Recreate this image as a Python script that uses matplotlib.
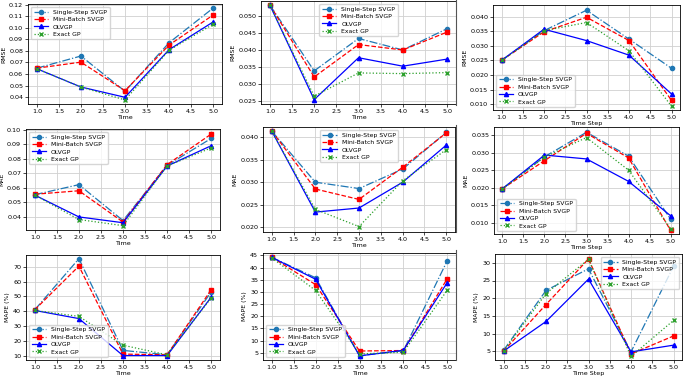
import matplotlib
matplotlib.use("Agg")
import matplotlib.pyplot as plt
from matplotlib.lines import Line2D

x = [1.0, 2.0, 3.0, 4.0, 5.0]
series_names = ["Single-Step SVGP", "Mini-Batch SVGP", "OLVGP", "Exact GP"]

# RMSE
rmse_a_ss = [0.065, 0.0755, 0.045, 0.087, 0.117]
rmse_a_mb = [0.065, 0.0702, 0.0455, 0.085, 0.111]
rmse_a_ol = [0.0645, 0.0487, 0.0398, 0.081, 0.105]
rmse_a_ex = [0.0645, 0.0487, 0.0375, 0.0805, 0.103]

rmse_b_ss = [0.0533, 0.0338, 0.0434, 0.0400, 0.0463]
rmse_b_mb = [0.0533, 0.0320, 0.0416, 0.0400, 0.0453]
rmse_b_ol = [0.0533, 0.0253, 0.0377, 0.0352, 0.0373]
rmse_b_ex = [0.0533, 0.0263, 0.0332, 0.0330, 0.0333]

rmse_c_ss = [0.0250, 0.0352, 0.0422, 0.0323, 0.0223]
rmse_c_mb = [0.0250, 0.0348, 0.0398, 0.0318, 0.0113]
rmse_c_ol = [0.0250, 0.0357, 0.0318, 0.0268, 0.0135]
rmse_c_ex = [0.0250, 0.0352, 0.0380, 0.0283, 0.0093]

# MAE
mae_a_ss = [0.0553, 0.0622, 0.0375, 0.0755, 0.094]
mae_a_mb = [0.0556, 0.0580, 0.0365, 0.0760, 0.097]
mae_a_ol = [0.0550, 0.0400, 0.0360, 0.0750, 0.089]
mae_a_ex = [0.0550, 0.0382, 0.0340, 0.0750, 0.0875]

mae_b_ss = [0.0413, 0.0300, 0.0286, 0.0329, 0.0410]
mae_b_mb = [0.0413, 0.0285, 0.0262, 0.0333, 0.0409]
mae_b_ol = [0.0413, 0.0234, 0.0243, 0.0300, 0.0382]
mae_b_ex = [0.0413, 0.0240, 0.0202, 0.0303, 0.0372]

mae_c_ss = [0.0197, 0.0288, 0.0358, 0.0290, 0.0110]
mae_c_mb = [0.0197, 0.0277, 0.0355, 0.0285, 0.0078]
mae_c_ol = [0.0197, 0.0293, 0.0282, 0.0218, 0.0120]
mae_c_ex = [0.0197, 0.0287, 0.0343, 0.0250, 0.0083]

# MAPE
mape_a_ss = [41, 75.5, 13.5, 10.5, 53]
mape_a_mb = [41, 70.5, 11, 10.5, 54.5]
mape_a_ol = [40.5, 35, 10, 10, 49.5]
mape_a_ex = [40.5, 36.5, 17, 10.5, 49]

mape_b_ss = [44.2, 35.8, 3.8, 5.8, 42.8]
mape_b_mb = [44.2, 33.0, 5.7, 5.9, 35.4]
mape_b_ol = [44.2, 35.2, 3.7, 6.0, 33.8]
mape_b_ex = [44.0, 30.6, 4.5, 5.2, 30.7]

mape_c_ss = [5.2, 22.2, 28.3, 4.8, 29.0]
mape_c_mb = [5.0, 18.2, 31.1, 4.2, 9.3]
mape_c_ol = [5.0, 13.4, 25.4, 4.8, 6.7]
mape_c_ex = [5.0, 21.3, 31.0, 3.5, 13.7]

W, H = 685, 376
fig = plt.figure(figsize=(W / 100, H / 100), dpi=100)

def box(l, t, r, b):
    return [l / W, 1 - b / H, (r - l) / W, (b - t) / H]

styles = [
    dict(color="#1f77b4", linestyle="-.", marker="o"),
    dict(color="#ff0000", linestyle="--", marker="s"),
    dict(color="#0000ff", linestyle="-", marker="^"),
    dict(color="#2ca02c", linestyle=":", marker="x"),
]

panels = [
    (box(28, 4, 222, 104), [rmse_a_ss, rmse_a_mb, rmse_a_ol, rmse_a_ex], "RMSE", "Time", "upper left", (0.034, 0.1205), [0.04, 0.05, 0.06, 0.07, 0.08, 0.09, 0.10, 0.11, 0.12], "{:.2f}"),
    (box(261, 1, 456, 104), [rmse_b_ss, rmse_b_mb, rmse_b_ol, rmse_b_ex], "RMSE", "Time", "upper center", (0.0240, 0.0545), [0.025, 0.030, 0.035, 0.040, 0.045, 0.050], "{:.3f}"),
    (box(493, 5, 680, 110), [rmse_c_ss, rmse_c_mb, rmse_c_ol, rmse_c_ex], "RMSE", "Time Step", "lower left", (0.0080, 0.0440), [0.010, 0.015, 0.020, 0.025, 0.030, 0.035, 0.040], "{:.3f}"),
    (box(26, 129, 220, 230), [mae_a_ss, mae_a_mb, mae_a_ol, mae_a_ex], "MAE", "Time", "upper left", (0.031, 0.1005), [0.04, 0.05, 0.06, 0.07, 0.08, 0.09, 0.10], "{:.2f}"),
    (box(263, 127, 455, 232), [mae_b_ss, mae_b_mb, mae_b_ol, mae_b_ex], "MAE", "Time", "upper center", (0.0190, 0.0422), [0.020, 0.025, 0.030, 0.035, 0.040], "{:.3f}"),
    (box(494, 127, 679, 234), [mae_c_ss, mae_c_mb, mae_c_ol, mae_c_ex], "MAE", "Time Step", "lower left", (0.0068, 0.0373), [0.010, 0.015, 0.020, 0.025, 0.030, 0.035], "{:.3f}"),
    (box(26, 255, 220, 360), [mape_a_ss, mape_a_mb, mape_a_ol, mape_a_ex], "MAPE (%)", "Time", "lower left", (7, 78), [10, 20, 30, 40, 50, 60, 70], "{:.0f}"),
    (box(263, 253, 456, 360), [mape_b_ss, mape_b_mb, mape_b_ol, mape_b_ex], "MAPE (%)", "Time", "lower left", (2, 46), [5, 10, 15, 20, 25, 30, 35, 40, 45], "{:.0f}"),
    (box(495, 254, 682, 360), [mape_c_ss, mape_c_mb, mape_c_ol, mape_c_ex], "MAPE (%)", "Time Step", "upper right", (2.5, 32.5), [5, 10, 15, 20, 25, 30], "{:.0f}"),
]

fs = 4.6
lfs = 4.4
for rect, data, ylabel, xlabel, loc, ylim, yticks, fmt in panels:
    ax = fig.add_axes(rect)
    for name, vals, st in zip(series_names, data, styles):
        ax.plot(x, vals, label=name, linewidth=0.9, markersize=3.0, **st)
    ax.set_xlim(0.8, 5.2)
    ax.set_ylim(*ylim)
    ax.set_xticks([1.0, 1.5, 2.0, 2.5, 3.0, 3.5, 4.0, 4.5, 5.0])
    ax.set_xticklabels(["{:.1f}".format(v) for v in [1.0, 1.5, 2.0, 2.5, 3.0, 3.5, 4.0, 4.5, 5.0]])
    ax.set_yticks(yticks)
    ax.set_yticklabels([fmt.format(v) for v in yticks])
    ax.tick_params(labelsize=fs, length=2, width=0.5, pad=1.5)
    ax.grid(True, color="#d0d0d0", linewidth=0.6)
    ax.set_axisbelow(True)
    ax.set_ylabel(ylabel, fontsize=lfs, labelpad=2)
    ax.set_xlabel(xlabel, fontsize=lfs + 0.2, labelpad=1)
    for sp in ax.spines.values():
        sp.set_linewidth(0.6)
    ax.legend(loc=loc, fontsize=lfs, handlelength=2.4, borderpad=0.4, labelspacing=0.35, framealpha=0.8)

# thin separator lines at left of third column
for (t, b) in [(0, 105), (125, 232), (250, 360)]:
    fig.add_artist(Line2D([456 / W, 456 / W], [1 - t / H, 1 - b / H], color="#555555", linewidth=0.8))

fig.savefig("out.png", dpi=100, facecolor="white")
